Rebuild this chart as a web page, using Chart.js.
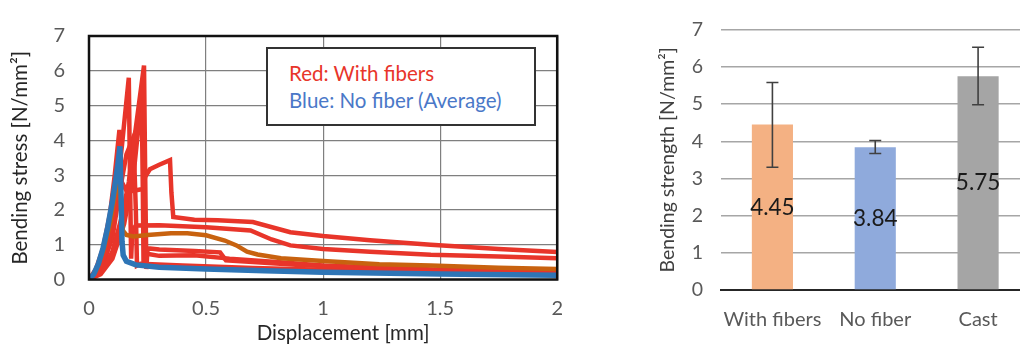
<!DOCTYPE html>
<html>
<head>
<meta charset="utf-8">
<script src="https://cdn.jsdelivr.net/npm/chart.js@4.4.0/dist/chart.umd.min.js"></script>
<style>
  html, body { margin: 0; padding: 0; background: #fff; overflow: hidden; width: 1020px; height: 347px; }
  #left-wrap { position: absolute; left: 0; top: 0; width: 580px; height: 347px; }
  #right-wrap { position: absolute; left: 620px; top: 0; width: 420px; height: 347px; }
  #legenda {
    position: absolute; left: 266px; top: 47px; width: 270px; height: 79px;
    border: 2px solid #333; background: #fff; box-sizing: border-box;
    font-family: Lato, "Open Sans", sans-serif; font-size: 20.5px; line-height: 27px;
    padding: 11px 0 0 21px;
  }
  #legenda .red { color: #e8352a; }
  #legenda .blue { color: #4a78c8; }
</style>
</head>
<body>
<div id="left-wrap"><canvas id="curvas" width="580" height="347"></canvas></div>
<div id="legenda"><div class="red">Red: With fibers</div><div class="blue">Blue: No fiber (Average)</div></div>
<div id="right-wrap"><canvas id="barras" width="420" height="347"></canvas></div>
<script>
// curvas - deslocamento [mm] x tensao [N/mm2]
const azulX = [0, 0.02, 0.04, 0.06, 0.08, 0.10, 0.115, 0.125, 0.132, 0.137, 0.141, 0.146, 0.16, 0.2, 0.3, 0.5, 0.75, 1.0, 1.5, 2.0]
const azulY = [0, 0.15, 0.45, 0.9, 1.5, 2.25, 2.9, 3.4, 3.83, 2.4, 1.1, 0.7, 0.52, 0.42, 0.35, 0.3, 0.25, 0.21, 0.16, 0.12]

const laranjaX = [0, 0.03, 0.06, 0.09, 0.11, 0.125, 0.135, 0.145, 0.16, 0.19, 0.25, 0.35, 0.42, 0.5, 0.58, 0.63, 0.675, 0.72, 0.82, 1.0, 1.24, 1.46, 1.75, 2.0]
const laranjaY = [0, 0.25, 0.8, 1.6, 2.4, 3.1, 2.2, 1.4, 1.28, 1.24, 1.28, 1.33, 1.33, 1.27, 1.12, 0.98, 0.8, 0.72, 0.61, 0.53, 0.44, 0.4, 0.34, 0.3]

const verm1X = [0, 0.03, 0.06, 0.09, 0.11, 0.13, 0.14, 0.16, 0.19, 0.23, 0.24, 0.26, 0.3, 0.346, 0.352, 0.36, 0.45, 0.55, 0.7, 0.86, 1.0, 1.2, 1.46, 1.75, 2.0]
const verm1Y = [0, 0.3, 0.9, 1.9, 3.0, 4.3, 2.8, 2.55, 2.55, 2.6, 2.95, 3.17, 3.3, 3.43, 2.5, 1.8, 1.72, 1.7, 1.65, 1.36, 1.25, 1.13, 1.0, 0.88, 0.79]

const verm2X = [0, 0.04, 0.08, 0.11, 0.14, 0.17, 0.175, 0.18, 0.185, 0.2, 0.3, 0.5, 0.69, 0.78, 0.86, 1.0, 1.2, 1.46, 1.75, 2.0]
const verm2Y = [0, 0.2, 0.9, 2.0, 3.8, 5.8, 3.0, 0.6, 1.4, 1.55, 1.56, 1.5, 1.41, 1.15, 0.98, 0.88, 0.8, 0.71, 0.66, 0.61]

const verm3X = [0, 0.05, 0.1, 0.14, 0.17, 0.195, 0.235, 0.24, 0.245, 0.25, 0.3, 0.45, 0.56, 0.585, 0.7, 0.9, 1.2, 1.5, 2.0]
const verm3Y = [0, 0.2, 0.8, 1.8, 2.8, 4.1, 6.15, 3.0, 0.3, 0.9, 0.86, 0.82, 0.78, 0.55, 0.5, 0.42, 0.33, 0.26, 0.18]

const verm4X = [0, 0.05, 0.1, 0.15, 0.19, 0.225, 0.23, 0.233, 0.24, 0.3, 0.45, 0.6, 0.8, 1.0, 1.5, 2.0]
const verm4Y = [0, 0.15, 0.6, 1.6, 3.0, 5.3, 2.5, 0.4, 0.75, 0.68, 0.7, 0.6, 0.5, 0.4, 0.28, 0.2]

const verm5X = [0, 0.05, 0.1, 0.13, 0.16, 0.19, 0.2, 0.205, 0.22, 0.4, 0.7, 1.0, 1.5, 2.0]
const verm5Y = [0, 0.25, 1.2, 2.5, 3.6, 4.1, 2.0, 0.4, 0.45, 0.4, 0.33, 0.28, 0.22, 0.17]

const ticksDeslocamento = [0, 0.5, 1, 1.5, 2]
const tituloX = 'Displacement [mm]'

// barras - resistencia a flexao
const categorias = ['With fibers', 'No fiber', 'Cast']
const resistencia = [4.45, 3.84, 5.75]
const erroMin = [3.3, 3.67, 4.98]
const erroMax = [5.58, 4.02, 6.53]

const fonte = 'Lato, "Open Sans", sans-serif'

function juntar(xs, ys) {
    let pts = []
    for(let i=0;i<xs.length;i++) {
        pts.push({x: xs[i], y: ys[i]})
    }
    return pts
}

function serie(xs, ys, cor, largura) {
    return {
        data: juntar(xs, ys),
        borderColor: cor,
        borderWidth: largura,
        pointRadius: 0,
        tension: 0,
        fill: false
    }
}

// moldura preta em volta da area do grafico + titulo do eixo x (um pouco deslocado como no original)
const moldura = {
    id: 'moldura',
    afterDatasetsDraw(chart) {
        const a = chart.chartArea
        const ctx = chart.ctx
        ctx.save()
        ctx.strokeStyle = '#111'
        ctx.lineWidth = 2.5
        ctx.strokeRect(a.left, a.top, a.right - a.left, a.bottom - a.top)
        ctx.fillStyle = '#262626'
        ctx.font = '20.5px ' + fonte
        ctx.textAlign = 'center'
        ctx.textBaseline = 'middle'
        ctx.fillText(tituloX, (a.left + a.right) / 2 + 20, 333)
        ctx.restore()
    }
}

const vermelho = '#e8352a'
let ctx = document.getElementById('curvas').getContext('2d')
new Chart(ctx, {
    type: 'line',
    data: {
        datasets: [
            serie(azulX, azulY, '#2e75b6', 5.5),
            serie(laranjaX, laranjaY, '#c8620f', 4.5),
            serie(verm1X, verm1Y, vermelho, 4.5),
            serie(verm2X, verm2Y, vermelho, 4.5),
            serie(verm3X, verm3Y, vermelho, 4.5),
            serie(verm4X, verm4Y, vermelho, 4.5),
            serie(verm5X, verm5Y, vermelho, 4.5)
        ]
    },
    options: {
        responsive: false,
        animation: false,
        layout: { padding: { top: 19, right: 15, left: 8, bottom: 0 } },
        plugins: { legend: { display: false }, tooltip: { enabled: false } },
        scales: {
            x: {
                type: 'linear',
                min: 0, max: 2,
                afterBuildTicks: s => { s.ticks = ticksDeslocamento.map(v => ({value: v})) },
                afterFit: s => { s.height = 67.5 },
                grid: { color: '#7f7f7f', lineWidth: 1.2, drawTicks: false },
                border: { display: false },
                ticks: { color: '#595959', font: { family: fonte, size: 20 }, padding: 17, callback: v => String(v) }
            },
            y: {
                min: 0, max: 7,
                afterFit: s => { s.width = 81 },
                grid: { color: '#7f7f7f', lineWidth: 1.2, drawTicks: false },
                border: { display: false },
                ticks: { stepSize: 1, color: '#595959', font: { family: fonte, size: 20 }, padding: 24 },
                title: { display: true, text: 'Bending stress [N/mm²]', color: '#262626', font: { family: fonte, size: 20.5 }, padding: 0 }
            }
        }
    },
    plugins: [moldura]
})

// barras de erro e rotulos de valor
const extrasBarras = {
    id: 'extrasBarras',
    afterDatasetsDraw(chart) {
        const c = chart.ctx
        const xs = chart.scales.x
        const ys = chart.scales.y
        c.save()
        c.strokeStyle = '#404040'
        c.lineWidth = 1.6
        for(let i=0;i<resistencia.length;i++) {
            let px = xs.getPixelForValue(i)
            let y1 = ys.getPixelForValue(erroMin[i])
            let y2 = ys.getPixelForValue(erroMax[i])
            c.beginPath()
            c.moveTo(px, y1); c.lineTo(px, y2)
            c.moveTo(px - 6, y1); c.lineTo(px + 6, y1)
            c.moveTo(px - 6, y2); c.lineTo(px + 6, y2)
            c.stroke()
        }
        c.fillStyle = '#1a1a1a'
        c.font = '22.5px ' + fonte
        c.textAlign = 'center'
        c.textBaseline = 'middle'
        for(let i=0;i<resistencia.length;i++) {
            c.fillText(resistencia[i].toFixed(2), xs.getPixelForValue(i), ys.getPixelForValue(resistencia[i] / 2))
        }
        c.restore()
    }
}

let ctx2 = document.getElementById('barras').getContext('2d')
new Chart(ctx2, {
    type: 'bar',
    data: {
        labels: categorias,
        datasets: [{
            data: resistencia,
            backgroundColor: ['#f4b183', '#8faadc', '#a5a5a5'],
            borderWidth: 0,
            barPercentage: 0.4,
            categoryPercentage: 1
        }]
    },
    options: {
        responsive: false,
        animation: false,
        layout: { padding: { top: 25, right: 10.5, left: 36, bottom: 0 } },
        plugins: { legend: { display: false }, tooltip: { enabled: false } },
        scales: {
            x: {
                afterFit: s => { s.height = 57 },
                grid: { display: false },
                border: { display: true, color: '#262626', width: 2 },
                ticks: { color: '#595959', font: { family: fonte, size: 20 }, padding: 10, maxRotation: 0, autoSkip: false }
            },
            y: {
                min: 0, max: 7,
                afterFit: s => { s.width = 65 },
                grid: { color: '#a6a6a6', lineWidth: 1.4, drawTicks: false },
                border: { display: false },
                ticks: { stepSize: 1, color: '#595959', font: { family: fonte, size: 19.5 }, padding: 18 },
                title: { display: true, text: 'Bending strength [N/mm²]', color: '#404040', font: { family: fonte, size: 19.5 }, padding: 0 }
            }
        }
    },
    plugins: [extrasBarras]
})
</script>
</body>
</html>
